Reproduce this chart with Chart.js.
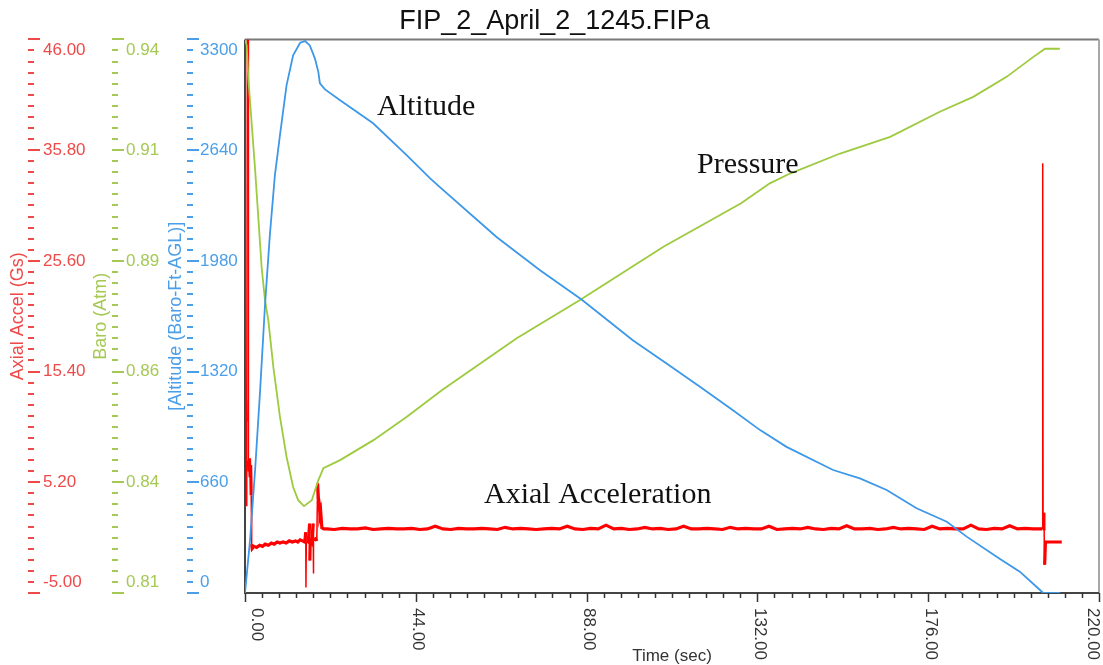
<!DOCTYPE html>
<html>
<head>
<meta charset="utf-8">
<script src="https://cdn.jsdelivr.net/npm/chart.js@4.4.1/dist/chart.umd.min.js"></script>
<style>
  html, body { margin: 0; padding: 0; background: #fff; }
  #wrap { width: 1103px; height: 665px; position: relative; }
</style>
</head>
<body>
<div id="wrap"><canvas id="flight"></canvas></div>
<script>
// tick values of the four axes
const timeTicks = [0, 44, 88, 132, 176, 220];
const accelTicks = [-5, 5.2, 15.4, 25.6, 35.8, 46];
const baroTicks = [0.81, 0.836, 0.862, 0.888, 0.914, 0.94];
const altTicks = [0, 660, 1320, 1980, 2640, 3300];

// altitude, ft AGL
const altTime = [0, 1.3, 2.6, 3.9, 5.15, 6.4, 7.7, 9.0, 10.7, 12.4, 14.2, 15.5, 16.7, 18.0, 18.9, 19.3, 20.6, 24.5,
  33.0, 41.7, 47.7, 50.2, 64.8, 76.0, 86.7, 99.9, 108.6, 117.2, 125.7, 132.7, 139.5, 151.5, 158.4, 165.3, 173.0,
  180.8, 185.9, 194.5, 199.6, 204.8, 205.6, 210.0];
const altValues = [0, 316, 733, 1209, 1715, 2133, 2490, 2728, 3026, 3205, 3280, 3290, 3264, 3187, 3105, 3038, 3002, 2937,
  2800, 2609, 2472, 2419, 2122, 1924, 1750, 1507, 1368, 1229, 1090, 971, 871, 733, 683, 614, 505,
  425, 336, 203, 127, 18, 0, 0];

// barometric pressure, atm
const baroTime = [0, 0.44, 0.85, 2.58, 4.3, 5.15, 6.0, 7.3, 9.0, 10.7, 12.4, 13.7, 15.2, 17.2, 18.9, 20.2, 24.5,
  33.1, 41.7, 50.7, 70.0, 86.3, 107.8, 127.8, 135.2, 140.4, 153.3, 166.2, 179.0, 187.6, 196.2, 203.1, 206.1, 209.9];
const baroValues = [0.94, 0.9386, 0.9309, 0.9097, 0.8863, 0.8788, 0.8741, 0.8631, 0.8514, 0.8420, 0.8349, 0.8318, 0.8304,
  0.8318, 0.8365, 0.8393, 0.8412, 0.8459, 0.8514, 0.8576, 0.8698, 0.8788, 0.8913, 0.9015, 0.9062, 0.9085, 0.9132,
  0.9171, 0.9230, 0.9265, 0.9312, 0.9359, 0.9378, 0.9378];

// axial acceleration, G
const accelTime = [0, 0.08, 0.15, 0.25, 0.32, 0.4, 0.5, 0.62, 0.8, 0.88,
  1.0, 1.15, 1.3, 1.45, 1.6, 1.72, 1.85, 2.3, 3.0, 3.8,
  4.5, 5.2, 6.0, 6.8, 7.5, 8.3, 9.0, 9.8, 10.6, 11.4,
  12.2, 13.0, 13.6, 14.2, 14.8, 15.4, 15.65, 15.7, 15.8, 16.3,
  16.65, 16.7, 16.8, 17.2, 17.55, 17.6, 17.7, 18.2, 18.5, 18.7,
  18.9, 19.1, 19.3, 19.5, 19.8, 20.3,
  21, 23, 25, 27, 29, 31, 33, 35, 37, 39,
  41, 43, 45, 47, 49, 51, 53, 55, 57, 59,
  61, 63, 65, 67, 69, 71, 73, 75, 77, 79,
  81, 83, 85, 87, 89, 91, 93, 95, 97, 99,
  101, 103, 105, 107, 109, 111, 113, 115, 117, 119,
  121, 123, 125, 127, 129, 131, 133, 135, 137, 139,
  141, 143, 145, 147, 149, 151, 153, 155, 157, 159,
  161, 163, 165, 167, 169, 171, 173, 175, 177, 179,
  181, 183, 185, 187, 189, 191, 193, 195, 197, 199,
  201, 203, 205,
  205.4, 205.5, 205.6, 205.8, 206.0, 206.2, 210.4];
const accelValues = [46, 12.8, 11.2, 12.6, 10.8, 3.0, 12.0, 46, 46, 7.2,
  6.2, 7.4, 5.8, 6.8, 4.0, -0.5, -0.9, -0.7, -0.8, -0.6,
  -0.7, -0.5, -0.6, -0.4, -0.5, -0.3, -0.4, -0.3, -0.4, -0.2,
  -0.3, -0.2, -0.3, -0.1, -0.2, -0.3, 0.6, -4.5, -0.2, -0.3,
  1.4, -2.0, -0.2, -0.4, 1.4, -3.2, -0.1, 0.0, -0.2, 5.1,
  3.8, 3.3, 2.2, 2.5, 1.0, 0.9,
  0.9, 0.85, 0.95, 0.9, 0.9, 1.0, 0.85, 0.9, 0.95, 0.9,
  0.9, 0.95, 0.85, 0.9, 1.15, 0.9, 0.85, 0.95, 0.9, 0.9,
  0.95, 0.9, 0.85, 1.05, 0.9, 0.95, 0.9, 0.85, 0.9, 0.95,
  0.9, 1.15, 0.9, 0.85, 0.95, 0.9, 1.25, 0.9, 0.95, 0.85,
  0.9, 1.05, 0.9, 0.95, 0.85, 0.9, 1.15, 0.9, 0.9, 0.95,
  0.9, 0.85, 1.05, 0.9, 0.95, 0.9, 0.9, 1.15, 0.85, 0.9,
  0.95, 0.9, 1.05, 0.9, 0.85, 0.95, 0.9, 1.2, 0.9, 0.9,
  0.95, 0.85, 0.9, 1.05, 0.9, 0.95, 0.9, 0.85, 1.15, 0.9,
  0.95, 0.9, 0.9, 1.25, 0.9, 0.85, 0.95, 0.9, 1.2, 0.9,
  0.95, 0.9, 0.9,
  0.9, 34.6, 0.9, 2.4, -2.4, -0.3, -0.3];

const pairs = (xs, ys) => xs.map((x, i) => ({ x, y: ys[i] }));

const sansFont = '"Liberation Sans", Arial, sans-serif';
const serifFont = '"Liberation Serif", "Times New Roman", serif';

const leftAxes = [
  { id: 'yAccel', ticks: accelTicks, digits: 2, color: '#ef4a4a', title: 'Axial Accel (Gs)', titleX: 18, tickX: 28, labelX: 43 },
  { id: 'yBaro', ticks: baroTicks, digits: 2, color: '#a5c954', title: 'Baro (Atm)', titleX: 101, tickX: 112, labelX: 126 },
  { id: 'yAlt', ticks: altTicks, digits: 0, color: '#4b9fe9', title: '[Altitude (Baro-Ft-AGL)]', titleX: 176, tickX: 187, labelX: 200 },
];

const notes = [
  { text: 'Altitude', x: 377, y: 115 },
  { text: 'Pressure', x: 697, y: 173 },
  { text: 'Axial Acceleration', x: 484, y: 503 },
];

function drawLeftAxis(chart, ax) {
  const ctx = chart.ctx;
  const scale = chart.scales[ax.id];
  ctx.strokeStyle = ax.color;
  ctx.fillStyle = ax.color;
  ctx.lineWidth = 2;
  const n = ax.ticks.length;
  let minorPx = 0;
  for (let i = 0; i < n - 1; i++) {
    const y0 = scale.getPixelForValue(ax.ticks[i]);
    const y1 = scale.getPixelForValue(ax.ticks[i + 1]);
    minorPx = Math.abs(y1 - y0) / 10;
    for (let k = 0; k < 10; k++) {
      const y = Math.round(y0 + (y1 - y0) * k / 10);
      const len = k === 0 ? 12 : 6;
      ctx.beginPath();
      ctx.moveTo(ax.tickX, y);
      ctx.lineTo(ax.tickX + len, y);
      ctx.stroke();
    }
  }
  const yTop = Math.round(scale.getPixelForValue(ax.ticks[n - 1]));
  ctx.beginPath();
  ctx.moveTo(ax.tickX, yTop);
  ctx.lineTo(ax.tickX + 12, yTop);
  ctx.stroke();

  ctx.font = '17px ' + sansFont;
  ctx.textAlign = 'left';
  ctx.textBaseline = 'middle';
  ax.ticks.forEach((v, i) => {
    let y = scale.getPixelForValue(v);
    if (i === 0) y -= minorPx;
    if (i === n - 1) y += minorPx;
    ctx.fillText(v.toFixed(ax.digits), ax.labelX, y);
  });

  ctx.save();
  ctx.translate(ax.titleX, (scale.top + scale.bottom) / 2);
  ctx.rotate(-Math.PI / 2);
  ctx.textAlign = 'center';
  ctx.font = '18px ' + sansFont;
  ctx.fillText(ax.title, 0, 0);
  ctx.restore();
}

function drawTimeAxis(chart) {
  const ctx = chart.ctx;
  const scale = chart.scales.x;
  const base = chart.chartArea.bottom;
  const last = timeTicks.length - 1;
  ctx.strokeStyle = '#333';
  ctx.lineWidth = 1.5;
  for (let i = 0; i <= last; i++) {
    const x0 = scale.getPixelForValue(timeTicks[i]);
    const steps = i < last ? 10 : 1;
    const x1 = i < last ? scale.getPixelForValue(timeTicks[i + 1]) : x0;
    for (let k = 0; k < steps; k++) {
      const x = Math.round(x0 + (x1 - x0) * k / 10) + 0.5;
      ctx.beginPath();
      ctx.moveTo(x, base);
      ctx.lineTo(x, base + (k === 0 ? 9 : 5));
      ctx.stroke();
    }
  }
  ctx.fillStyle = '#333';
  ctx.font = '17px ' + sansFont;
  timeTicks.forEach((v, i) => {
    let shift = 2;
    if (i === 0) shift = 12;
    if (i === last) shift = -6;
    ctx.save();
    ctx.translate(scale.getPixelForValue(v) + shift, base + 15);
    ctx.rotate(Math.PI / 2);
    ctx.textAlign = 'left';
    ctx.textBaseline = 'middle';
    ctx.fillText(v.toFixed(2), 0, 0);
    ctx.restore();
  });
  ctx.textAlign = 'center';
  ctx.textBaseline = 'middle';
  ctx.fillText('Time (sec)', 672, 656);
}

const frame = {
  id: 'frame',
  beforeDatasetsDraw(chart) {
    const { ctx, chartArea: a } = chart;
    ctx.save();
    ctx.lineWidth = 2;
    ctx.strokeStyle = '#7a7a7a';
    ctx.beginPath();
    ctx.moveTo(a.left, a.top);
    ctx.lineTo(a.right, a.top);
    ctx.stroke();
    ctx.strokeStyle = '#a8a8a8';
    ctx.beginPath();
    ctx.moveTo(a.right, a.top);
    ctx.lineTo(a.right, a.bottom);
    ctx.stroke();
    ctx.strokeStyle = '#444';
    ctx.beginPath();
    ctx.moveTo(a.left, a.top);
    ctx.lineTo(a.left, a.bottom);
    ctx.lineTo(a.right, a.bottom);
    ctx.stroke();
    ctx.restore();
  },
  afterDraw(chart) {
    const ctx = chart.ctx;
    ctx.save();
    leftAxes.forEach((ax) => drawLeftAxis(chart, ax));
    drawTimeAxis(chart);
    ctx.fillStyle = '#111';
    ctx.font = '30px ' + serifFont;
    ctx.textAlign = 'left';
    ctx.textBaseline = 'alphabetic';
    notes.forEach((n) => ctx.fillText(n.text, n.x, n.y));
    ctx.restore();
  },
};

const hiddenAxis = (width) => ({
  position: 'left',
  ticks: { display: false },
  grid: { display: false },
  border: { display: false },
  afterFit: (s) => { s.width = width; },
});

new Chart(document.getElementById('flight'), {
  type: 'line',
  data: {
    datasets: [
      {
        label: 'Altitude',
        data: pairs(altTime, altValues),
        yAxisID: 'yAlt',
        borderColor: '#3d98e8',
        borderWidth: 1.8,
      },
      {
        label: 'Baro',
        data: pairs(baroTime, baroValues),
        yAxisID: 'yBaro',
        borderColor: '#9dca3e',
        borderWidth: 1.8,
      },
      {
        label: 'Axial Accel',
        data: pairs(accelTime, accelValues),
        yAxisID: 'yAccel',
        borderColor: '#ff0000',
        borderWidth: 3.2,
        segment: {
          borderWidth: (c) => (Math.abs(c.p1.parsed.y - c.p0.parsed.y) > 3 ? 1.5 : 3.2),
        },
      },
    ],
  },
  options: {
    responsive: true,
    maintainAspectRatio: false,
    animation: false,
    elements: { point: { radius: 0 }, line: { tension: 0 } },
    layout: { padding: { left: 10, right: 4, top: 0, bottom: 0 } },
    plugins: {
      legend: { display: false },
      tooltip: { enabled: false },
      title: {
        display: true,
        text: 'FIP_2_April_2_1245.FIPa',
        color: '#111',
        font: { family: sansFont, size: 27, weight: 'normal' },
        padding: { top: 5, bottom: 2 },
      },
    },
    scales: {
      x: {
        type: 'linear',
        position: 'bottom',
        min: timeTicks[0],
        max: timeTicks[timeTicks.length - 1],
        ticks: { display: false },
        grid: { display: false },
        border: { display: false },
        afterFit: (s) => { s.height = 72; },
      },
      yAlt: { ...hiddenAxis(75), min: altTicks[0], max: altTicks[altTicks.length - 1] },
      yBaro: { ...hiddenAxis(75), min: baroTicks[0], max: baroTicks[baroTicks.length - 1] },
      yAccel: { ...hiddenAxis(85), min: accelTicks[0], max: accelTicks[accelTicks.length - 1] },
    },
  },
  plugins: [frame],
});
</script>
</body>
</html>
